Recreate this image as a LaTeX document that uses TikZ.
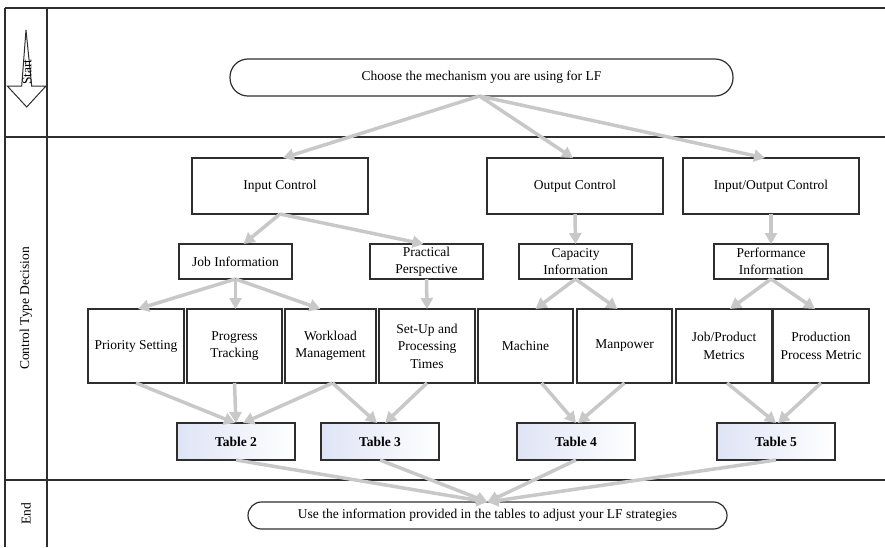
\documentclass[tikz,border=0pt]{standalone}
\usepackage{fontspec}
\setmainfont{Liberation Serif}
\usetikzlibrary{arrows.meta}
\definecolor{arrgray}{HTML}{C8C8C8}
\definecolor{linegray}{HTML}{2E2E2E}
\definecolor{tabblue}{HTML}{DFE4F5}
\begin{document}
\begin{tikzpicture}[x=1pt,y=-1pt,
  txt/.style={font=\fontsize{13.5}{17.5}\selectfont},
  box/.style={draw=linegray,line width=1.2pt,rectangle,inner sep=0pt,outer sep=0pt,align=center,txt},
  term/.style={box,rounded corners=#1},
  tabbox/.style={box,minimum width=118pt,minimum height=37pt,left color=tabblue,right color=white,postaction={draw=linegray,line width=1.3pt},font=\fontsize{13.5}{17}\selectfont\bfseries},
  frameline/.style={draw=linegray,line width=1.3pt},
  arr/.style={draw=arrgray,line width=3.5pt,-{Triangle[length=11pt,width=12pt]}}
]
\useasboundingbox (0,0) rectangle (885,547);
% frame
\draw[frameline] (5,8) -- (885,8);
\draw[frameline] (5,8) -- (5,547);
\draw[frameline] (47,8) -- (47,547);
\draw[frameline] (5,137) -- (885,137);
\draw[frameline] (5,480) -- (885,480);
% start arrow shape
\draw[draw=linegray,line width=1pt,line join=miter] (26,30) -- (31.7,86) -- (46,86) -- (26.7,107) -- (7.3,86) -- (21.7,86) -- cycle;
\node[txt,rotate=90] (lstart) at (27,72) {Start};
\node[txt,rotate=90] (lctd) at (26,308.5) {Control Type Decision};
\node[txt,rotate=90] (lend) at (26,514) {End};
% nodes
\node[term=18pt,minimum width=503pt,minimum height=37pt] (start) at (481.5,77.5) {Choose the mechanism you are using for LF};
\node[box,minimum width=176pt,minimum height=56pt] (ic) at (280,186) {Input Control};
\node[box,minimum width=176pt,minimum height=56pt] (oc) at (575,186) {Output Control};
\node[box,minimum width=176pt,minimum height=56pt] (ioc) at (771,186) {Input/Output Control};
\node[box,minimum width=113pt,minimum height=35pt] (ji) at (235.5,261.5) {Job Information};
\node[box,minimum width=113pt,minimum height=35pt] (pp) at (426.5,261.5) {Practical\\Perspective};
\node[box,minimum width=113pt,minimum height=35pt] (ci) at (575.5,261.5) {Capacity\\Information};
\node[box,minimum width=114pt,minimum height=35pt] (pi) at (771,261.5) {Performance\\Information};
\node[box,minimum width=96pt,minimum height=74pt] (ps) at (136,346) {Priority Setting};
\node[box,minimum width=95pt,minimum height=74pt] (pt) at (234.5,346) {Progress\\Tracking};
\node[box,minimum width=91pt,minimum height=74pt] (wm) at (330.5,346) {Workload\\Management};
\node[box,minimum width=96pt,minimum height=74pt] (su) at (427,346) {Set-Up and\\Processing\\Times};
\node[box,minimum width=95pt,minimum height=74pt] (ma) at (525.5,346) {Machine};
\node[box,minimum width=95pt,minimum height=74pt] (mp) at (624.5,346) {Manpower};
\node[box,minimum width=96pt,minimum height=74pt] (jp) at (724,346) {Job/Product\\Metrics};
\node[box,minimum width=96pt,minimum height=74pt] (pm) at (821,346) {Production\\Process Metric};
\node[tabbox] (t2) at (236,441.5) {Table 2};
\node[tabbox] (t3) at (380,441.5) {Table 3};
\node[tabbox] (t4) at (576,441.5) {Table 4};
\node[tabbox] (t5) at (776,441.5) {Table 5};
\node[term=13.5pt,minimum width=479pt,minimum height=27pt] (end) at (487.5,515.5) {Use the information provided in the tables to adjust your LF strategies};
% connectors
\draw[arr] ([xshift=-2pt]start.south) -- ([xshift=3pt]ic.north);
\draw[arr] ([xshift=-2pt]start.south) -- ([xshift=-2pt]oc.north);
\draw[arr] ([xshift=-2pt]start.south) -- ([xshift=-6pt]ioc.north);
\draw[arr] (ic.south) -- ([xshift=8pt]ji.north);
\draw[arr] (ic.south) -- ([xshift=-3pt]pp.north);
\draw[arr] (oc.south) -- (ci.north);
\draw[arr] (ioc.south) -- (pi.north);
\draw[arr] (ji.south) -- ([xshift=2pt]ps.north);
\draw[arr] (ji.south) -- ([xshift=1pt]pt.north);
\draw[arr] (ji.south) -- ([xshift=-10pt]wm.north);
\draw[arr] (pp.south) -- (su.north);
\draw[arr] (ci.south) -- ([xshift=10pt]ma.north);
\draw[arr] (ci.south) -- ([xshift=-7pt]mp.north);
\draw[arr] (pi.south) -- ([xshift=6pt]jp.north);
\draw[arr] (pi.south) -- ([xshift=-6pt]pm.north);
\draw[arr] (ps.south) -- ([xshift=-1pt]t2.north);
\draw[arr] (pt.south) -- (t2.north);
\draw[arr] ([xshift=2pt]wm.south) -- ([xshift=7pt]t2.north);
\draw[arr] ([xshift=2pt]wm.south) -- ([xshift=-3pt]t3.north);
\draw[arr] (su.south) -- ([xshift=5pt]t3.north);
\draw[arr] ([xshift=16pt]ma.south) -- (t4.north);
\draw[arr] (mp.south) -- ([xshift=2pt]t4.north);
\draw[arr] ([xshift=3pt]jp.south) -- (t5.north);
\draw[arr] (pm.south) -- ([xshift=2pt]t5.north);
\draw[arr] (t2.south) -- (end.north);
\draw[arr] (t3.south) -- (end.north);
\draw[arr] (t4.south) -- (end.north);
\draw[arr] (t5.south) -- (end.north);
\end{tikzpicture}
\end{document}
